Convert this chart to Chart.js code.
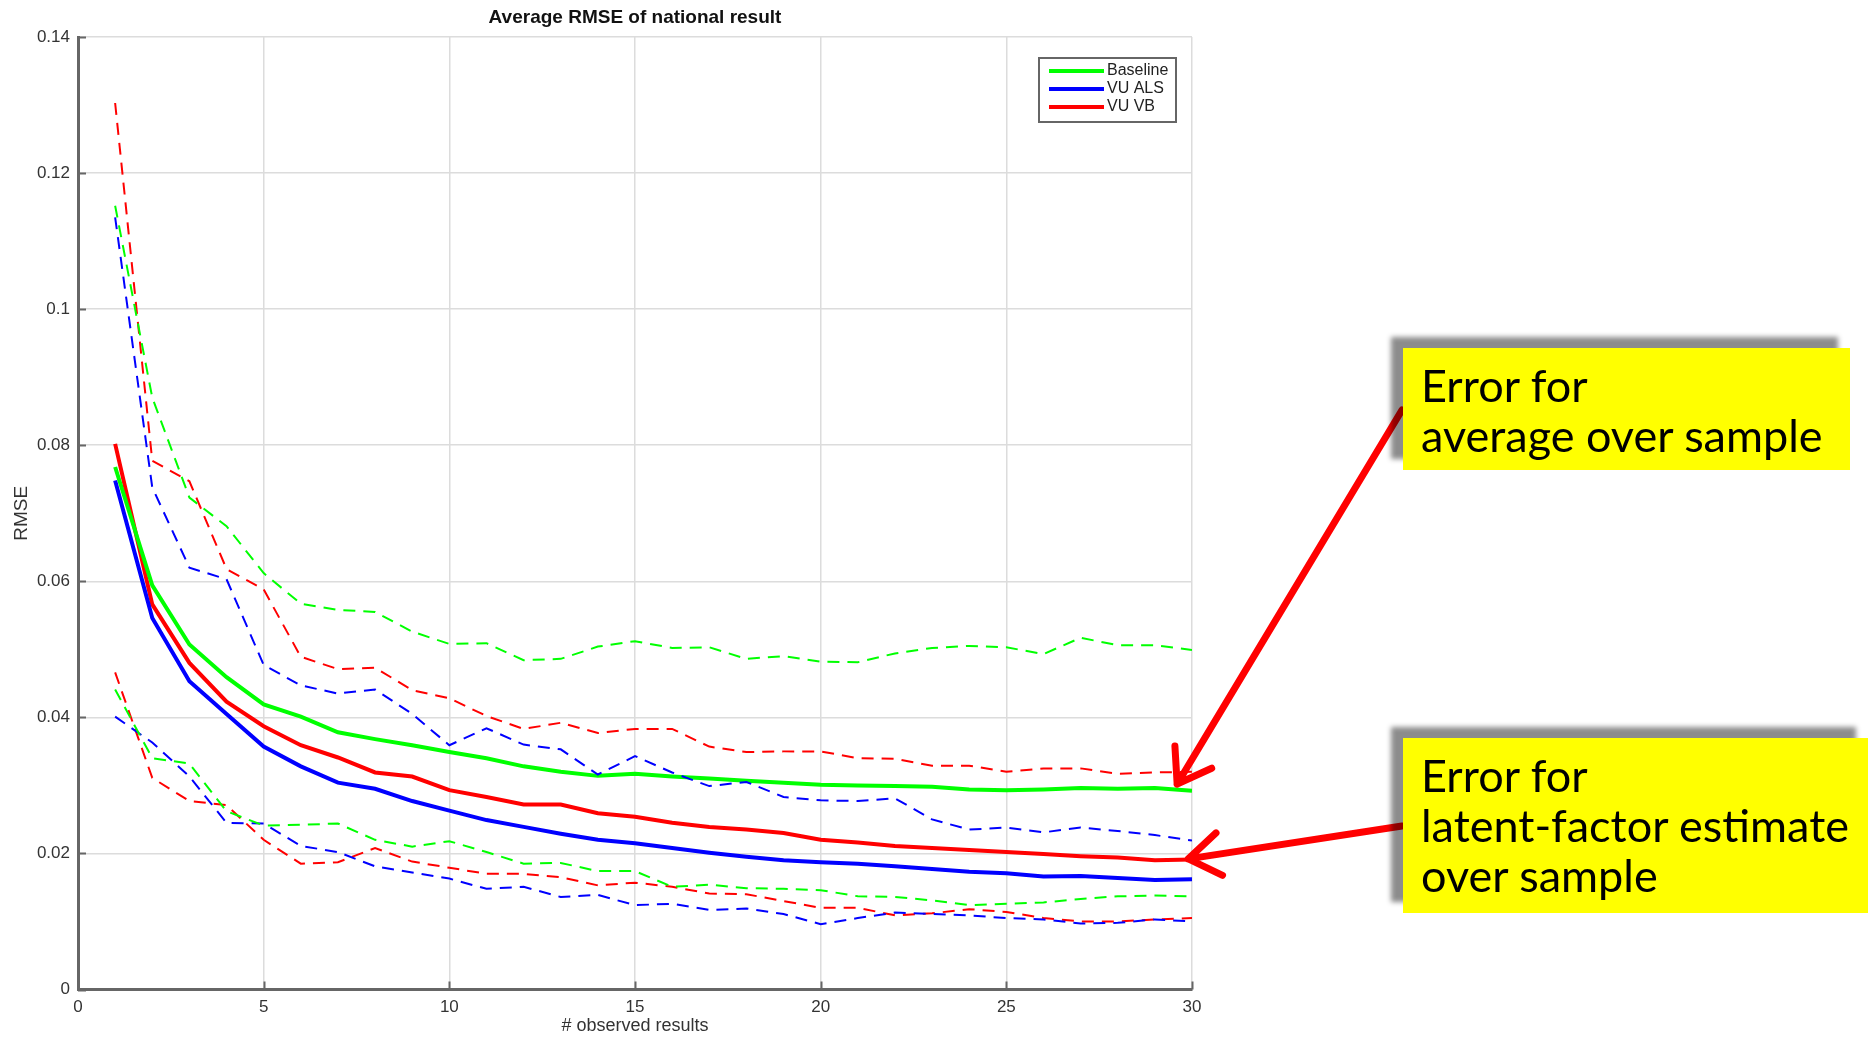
<!DOCTYPE html>
<html>
<head>
<meta charset="utf-8">
<script src="https://cdn.jsdelivr.net/npm/chart.js@4.4.0/dist/chart.umd.min.js"></script>
<style>
  html, body { margin: 0; padding: 0; background: #fff; }
  #wrap { position: relative; width: 1876px; height: 1040px; }
  .note {
    position: absolute;
    background: #ffff00;
    box-shadow: -12px -11px 5px rgba(0, 0, 0, 0.45);
    font-family: Lato, "Open Sans", sans-serif;
    font-size: 45px;
    line-height: 50px;
    color: #000;
    padding: 12px 0 0 18px;
    box-sizing: border-box;
    white-space: nowrap;
  }
</style>
</head>
<body>
<div id="wrap">
  <canvas id="myChart"></canvas>
  <div class="note" style="left:1403px; top:348px; width:447px; height:122px;">Error for<br>average over sample</div>
  <div class="note" style="left:1403px; top:738px; width:465px; height:175px;">Error for<br>latent-factor estimate<br>over sample</div>
</div>
<script>
const observed = [1, 2, 3, 4, 5, 6, 7, 8, 9, 10, 11, 12, 13, 14, 15, 16, 17, 18, 19, 20, 21, 22, 23, 24, 25, 26, 27, 28, 29, 30];

const baseline = [0.0768, 0.0594, 0.0507, 0.0459, 0.0419, 0.0401, 0.0378, 0.0368, 0.0359, 0.0349, 0.0340, 0.0328, 0.0320, 0.0314, 0.0317,
                  0.0313, 0.0310, 0.0307, 0.0304, 0.0301, 0.0300, 0.0299, 0.0298, 0.0294, 0.0293, 0.0294, 0.0296, 0.0295, 0.0296, 0.0292];
const vuAls = [0.0748, 0.0546, 0.0453, 0.0405, 0.0357, 0.0328, 0.0304, 0.0295, 0.0277, 0.0263, 0.0249, 0.0239, 0.0229, 0.0220, 0.0215,
               0.0208, 0.0201, 0.0195, 0.0190, 0.0187, 0.0185, 0.0181, 0.0177, 0.0173, 0.0171, 0.0166, 0.0167, 0.0164, 0.0161, 0.0162];
const vuVb = [0.0802, 0.0566, 0.0480, 0.0423, 0.0387, 0.0359, 0.0341, 0.0319, 0.0313, 0.0293, 0.0283, 0.0272, 0.0272, 0.0259, 0.0254,
              0.0245, 0.0239, 0.0235, 0.0230, 0.0220, 0.0216, 0.0211, 0.0208, 0.0205, 0.0202, 0.0199, 0.0196, 0.0194, 0.0190, 0.0191];

// dashed bands
const baselineHigh = [0.1152, 0.0870, 0.0723, 0.0681, 0.0612, 0.0567, 0.0558, 0.0555, 0.0526, 0.0508, 0.0509, 0.0484, 0.0486, 0.0504, 0.0512,
                      0.0502, 0.0503, 0.0486, 0.0490, 0.0482, 0.0481, 0.0494, 0.0502, 0.0505, 0.0503, 0.0493, 0.0517, 0.0506, 0.0506, 0.0499];
const baselineLow = [0.0441, 0.0340, 0.0332, 0.0262, 0.0241, 0.0242, 0.0244, 0.0220, 0.0210, 0.0218, 0.0202, 0.0185, 0.0186, 0.0174, 0.0174,
                     0.0151, 0.0154, 0.0149, 0.0148, 0.0146, 0.0137, 0.0136, 0.0131, 0.0124, 0.0126, 0.0128, 0.0133, 0.0137, 0.0138, 0.0137];
const vuAlsHigh = [0.1135, 0.0738, 0.0620, 0.0603, 0.0477, 0.0447, 0.0435, 0.0441, 0.0405, 0.0359, 0.0384, 0.0360, 0.0353, 0.0316, 0.0343,
                   0.0319, 0.0299, 0.0305, 0.0283, 0.0278, 0.0277, 0.0281, 0.0250, 0.0235, 0.0238, 0.0231, 0.0238, 0.0233, 0.0227, 0.0219];
const vuAlsLow = [0.0401, 0.0363, 0.0313, 0.0245, 0.0244, 0.0211, 0.0202, 0.0181, 0.0172, 0.0163, 0.0148, 0.0151, 0.0136, 0.0139, 0.0124,
                  0.0126, 0.0117, 0.0119, 0.0111, 0.0096, 0.0105, 0.0113, 0.0111, 0.0109, 0.0105, 0.0103, 0.0097, 0.0098, 0.0103, 0.0100];
const vuVbHigh = [0.1303, 0.0777, 0.0747, 0.0618, 0.0588, 0.0489, 0.0471, 0.0473, 0.0440, 0.0428, 0.0402, 0.0383, 0.0392, 0.0377, 0.0383,
                  0.0383, 0.0357, 0.0349, 0.0350, 0.0350, 0.0340, 0.0339, 0.0329, 0.0329, 0.0320, 0.0325, 0.0325, 0.0317, 0.0319, 0.0320];
const vuVbLow = [0.0466, 0.0311, 0.0277, 0.0271, 0.0220, 0.0185, 0.0187, 0.0208, 0.0188, 0.0179, 0.0170, 0.0170, 0.0165, 0.0153, 0.0157,
                 0.0151, 0.0141, 0.0140, 0.0130, 0.0120, 0.0120, 0.0109, 0.0112, 0.0118, 0.0114, 0.0105, 0.0100, 0.0100, 0.0103, 0.0105];

const xTicks = [0, 5, 10, 15, 20, 25, 30];
const yTicks = [0, 0.02, 0.04, 0.06, 0.08, 0.1, 0.12, 0.14];
const names = ["Baseline", "VU ALS", "VU VB"];
const colors = ["#00ff00", "#0000ff", "#ff0000"];
const chartTitle = "Average RMSE of national result";

const tickFont = "'Liberation Sans Narrow', 'Liberation Sans', Arial, sans-serif";

function points(values) {
  return observed.map((x, i) => ({ x: x, y: values[i] }));
}

function dashed(values, color) {
  return { data: points(values), borderColor: color, borderWidth: 2, borderDash: [12, 8], pointRadius: 0, fill: false, tension: 0 };
}

function solid(values, color, label) {
  return { label: label, data: points(values), borderColor: color, borderWidth: 4, pointRadius: 0, fill: false, tension: 0 };
}

const datasets = [
  dashed(baselineHigh, colors[0]), dashed(baselineLow, colors[0]),
  dashed(vuAlsHigh, colors[1]), dashed(vuAlsLow, colors[1]),
  dashed(vuVbHigh, colors[2]), dashed(vuVbLow, colors[2]),
  solid(baseline, colors[0], names[0]),
  solid(vuAls, colors[1], names[1]),
  solid(vuVb, colors[2], names[2])
];

// arrow tips in data units, tails in page pixels (left edge of the yellow notes)
const arrows = [
  { tipX: 29.6, tipY: 0.0302, tailX: 1402, tailY: 410 },
  { tipX: 29.9, tipY: 0.0192, tailX: 1402, tailY: 826 }
];

const extras = {
  id: 'extras',
  afterDraw(chart) {
    const ctx = chart.ctx;
    const area = chart.chartArea;
    const xs = chart.scales.x;
    const ys = chart.scales.y;
    ctx.save();

    // title centred over the plot area, like the matlab figure
    ctx.fillStyle = '#111';
    ctx.font = "bold 19px " + tickFont;
    ctx.textAlign = 'center';
    ctx.textBaseline = 'middle';
    ctx.fillText(chartTitle, (area.left + area.right) / 2, 18);
    ctx.textAlign = 'left';

    // inward tick marks
    ctx.strokeStyle = '#666';
    ctx.lineWidth = 2;
    ctx.beginPath();
    yTicks.forEach(v => {
      const y = Math.round(ys.getPixelForValue(v)) + 0.5;
      ctx.moveTo(area.left, y);
      ctx.lineTo(area.left + 8, y);
    });
    xTicks.forEach(v => {
      const x = Math.round(xs.getPixelForValue(v)) + 0.5;
      ctx.moveTo(x, area.bottom);
      ctx.lineTo(x, area.bottom - 8);
    });
    ctx.stroke();

    // legend box
    const bx = area.right - 153, by = area.top + 21;
    ctx.fillStyle = '#fff';
    ctx.fillRect(bx, by, 137, 64);
    ctx.strokeStyle = '#666';
    ctx.lineWidth = 2;
    ctx.strokeRect(bx, by, 137, 64);
    ctx.font = "16px " + tickFont;
    names.forEach((n, i) => {
      const y = by + 13 + i * 18;
      ctx.strokeStyle = colors[i];
      ctx.lineWidth = 4;
      ctx.beginPath();
      ctx.moveTo(bx + 10, y);
      ctx.lineTo(bx + 65, y);
      ctx.stroke();
      ctx.fillStyle = '#222';
      ctx.fillText(n, bx + 68, y);
    });

    // red arrows to the notes
    ctx.strokeStyle = '#ff0000';
    ctx.lineWidth = 7;
    ctx.lineCap = 'round';
    arrows.forEach(a => {
      const tx = xs.getPixelForValue(a.tipX);
      const ty = ys.getPixelForValue(a.tipY);
      const ang = Math.atan2(ty - a.tailY, tx - a.tailX);
      ctx.beginPath();
      ctx.moveTo(a.tailX, a.tailY);
      ctx.lineTo(tx, ty);
      [0.6, -0.6].forEach(d => {
        ctx.moveTo(tx, ty);
        ctx.lineTo(tx - 38 * Math.cos(ang + d), ty - 38 * Math.sin(ang + d));
      });
      ctx.stroke();
    });
    ctx.restore();
  }
};

const config = {
  type: 'line',
  data: { datasets: datasets },
  options: {
    responsive: false,
    animation: false,
    layout: { padding: { left: 0, right: 684, top: 37, bottom: 0 } },
    plugins: {
      legend: { display: false },
      tooltip: { enabled: false },
      title: { display: false }
    },
    scales: {
      x: {
        type: 'linear',
        min: 0,
        max: 30,
        afterFit(scale) { scale.height = 50.5; },
        afterBuildTicks(scale) { scale.ticks = xTicks.map(v => ({ value: v })); },
        ticks: { color: '#333', font: { family: tickFont, size: 17 }, padding: 8, maxRotation: 0 },
        grid: { color: '#dcdcdc', lineWidth: 1.5, drawTicks: false },
        border: { color: '#666', width: 3 },
        title: { display: true, text: '# observed results', color: '#333', font: { family: tickFont, size: 18 }, padding: { top: 0, bottom: 3 } }
      },
      y: {
        min: 0,
        max: 0.14,
        afterFit(scale) { scale.width = 78; },
        afterBuildTicks(scale) { scale.ticks = yTicks.map(v => ({ value: v })); },
        ticks: {
          color: '#333',
          font: { family: tickFont, size: 17 },
          padding: 8,
          callback: v => String(+v.toFixed(2))
        },
        grid: { color: '#dcdcdc', lineWidth: 1.5, drawTicks: false },
        border: { color: '#666', width: 3 },
        title: { display: true, text: 'RMSE', color: '#333', font: { family: tickFont, size: 19 }, padding: { top: 10, bottom: 0 } }
      }
    }
  },
  plugins: [extras]
};

const canvas = document.getElementById('myChart');
canvas.width = 1876;
canvas.height = 1040;
const myChart = new Chart(canvas, config);
</script>
</body>
</html>
